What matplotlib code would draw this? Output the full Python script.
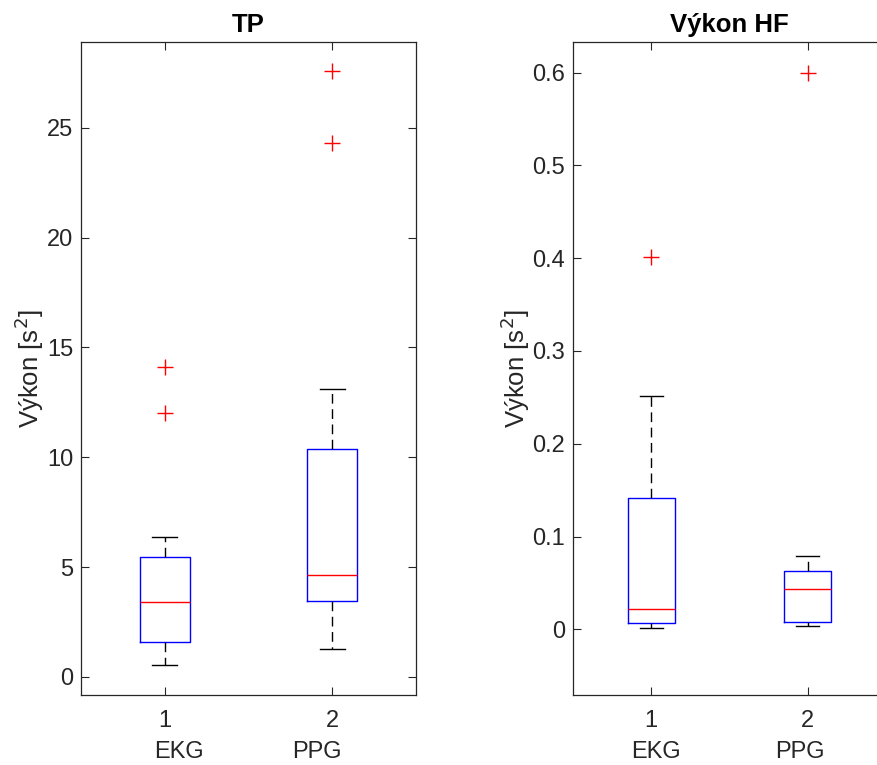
import matplotlib
matplotlib.use("Agg")
import matplotlib.pyplot as plt

plt.rcParams['font.family'] = ['Liberation Sans', 'DejaVu Sans']

groups = ["EKG", "PPG"]
positions = [1, 2]

# TP (left panel)
tp_whislo = [0.55, 1.28]
tp_q1 = [1.58, 3.45]
tp_med = [3.43, 4.64]
tp_q3 = [5.46, 10.38]
tp_whishi = [6.38, 13.1]
tp_fliers = [[12.0, 14.1], [24.3, 27.6]]

# HF (right panel)
hf_whislo = [0.001, 0.0036]
hf_q1 = [0.007, 0.008]
hf_med = [0.022, 0.0434]
hf_q3 = [0.141, 0.0625]
hf_whishi = [0.251, 0.079]
hf_fliers = [[0.401], [0.600]]

titles = ["TP", "Výkon HF"]
ylabel = "Výkon [s$^2$]"
tp_yticks = [0, 5, 10, 15, 20, 25]
hf_yticks = [0, 0.1, 0.2, 0.3, 0.4, 0.5, 0.6]

W, H = 877, 765
fig = plt.figure(figsize=(W / 100, H / 100), dpi=100)

axcol = (0.15, 0.15, 0.15)
fs = 17
fs_lab = 18.5


def make_stats(wl, q1, med, q3, wh, fl):
    out = []
    for i in range(len(med)):
        out.append(dict(med=med[i], q1=q1[i], q3=q3[i], whislo=wl[i], whishi=wh[i],
                        fliers=fl[i], label=str(positions[i])))
    return out


def draw(ax, stats, ylim, yticks, ytlabels, title, grp_x, label_x):
    ax.bxp(stats, positions=positions, widths=0.3, showfliers=True,
           boxprops=dict(color='blue', linewidth=1.0),
           medianprops=dict(color='red', linewidth=1.0),
           whiskerprops=dict(color='black', linewidth=1.0, linestyle=(0, (7, 4))),
           capprops=dict(color='black', linewidth=1.0),
           capwidths=0.15,
           flierprops=dict(marker='+', markeredgecolor='red', markersize=11,
                           markeredgewidth=1.0, linestyle='none'))
    ax.set_xlim(0.5, 2.5)
    ax.set_ylim(*ylim)
    ax.set_yticks(yticks)
    ax.set_yticklabels(ytlabels)
    ax.set_xticks(positions)
    ax.set_xticklabels([str(p) for p in positions])
    ax.tick_params(direction='in', length=6, width=0.8, colors=axcol, labelsize=fs,
                   top=True, right=True)
    ax.tick_params(axis='y', pad=5.5)
    ax.tick_params(axis='x', pad=10.5)
    for s in ax.spines.values():
        s.set_color(axcol)
        s.set_linewidth(0.9)
    ax.set_title(title, fontsize=fs_lab, fontweight='bold', pad=7)
    ax.set_ylabel(ylabel, fontsize=fs_lab, color=axcol)
    ax.yaxis.set_label_coords(label_x, 0.5)
    for gx, g in zip(grp_x, groups):
        ax.text(gx, -0.097, g, transform=ax.get_xaxis_transform(), ha='center', va='baseline',
                fontsize=fs, color=axcol)


ax1 = fig.add_axes([81 / W, 70 / H, 335 / W, 653 / H])
draw(ax1, make_stats(tp_whislo, tp_q1, tp_med, tp_q3, tp_whishi, tp_fliers),
     (-0.82, 28.9), tp_yticks, [str(t) for t in tp_yticks], titles[0],
     [1.085, 1.91], -0.104)

ax2 = fig.add_axes([573 / W, 70 / H, 313 / W, 653 / H])
draw(ax2, make_stats(hf_whislo, hf_q1, hf_med, hf_q3, hf_whishi, hf_fliers),
     (-0.0708, 0.633), hf_yticks, ['0'] + [f"{t:.1f}" for t in hf_yticks[1:]], titles[1],
     [1.03, 1.95], -0.13)

fig.savefig("out.png", dpi=100)
